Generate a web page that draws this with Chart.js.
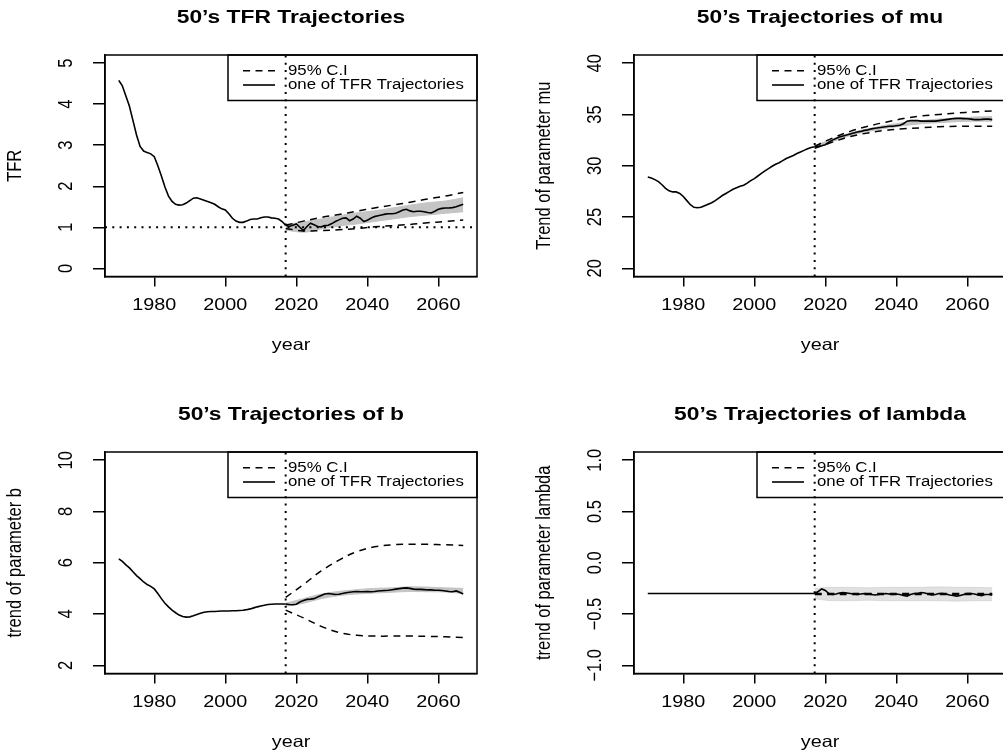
<!DOCTYPE html>
<html lang="en">
<head>
  <meta charset="UTF-8">
  <title>50's Trajectories</title>
  <script src="https://cdn.jsdelivr.net/npm/chart.js"></script>
  <style>
    html, body { margin: 0; padding: 0; background: #fff; overflow: hidden; width: 1003px; height: 756px; }
    canvas { position: absolute; }
  </style>
</head>
<body>
  <canvas id="tfr" width="529" height="397" style="left:0px;top:0px"></canvas>
  <canvas id="mu" width="529" height="397" style="left:529px;top:0px"></canvas>
  <canvas id="b" width="529" height="397" style="left:0px;top:397px"></canvas>
  <canvas id="lambda" width="529" height="397" style="left:529px;top:397px"></canvas>
<script>
// years
const histYears = [1970,1971,1972,1973,1974,1975,1976,1977,1978,1979,1980,1981,1982,1983,1984,1985,1986,1987,1988,1989,
  1990,1991,1992,1993,1994,1995,1996,1997,1998,1999,2000,2001,2002,2003,2004,2005,2006,2007,2008,2009,
  2010,2011,2012,2013,2014,2015,2016,2017];
const projYears = [2017,2018,2019,2020,2021,2022,2023,2024,2025,2026,2027,2028,2029,2030,2031,2032,2033,2034,2035,2036,
  2037,2038,2039,2040,2041,2042,2043,2044,2045,2046,2047,2048,2049,2050,2051,2052,2053,2054,2055,2056,
  2057,2058,2059,2060,2061,2062,2063,2064,2065,2066,2067];
const ciYears = [2017,2022,2027,2032,2037,2042,2047,2052,2057,2062,2067];
const xTicks = [1980,2000,2020,2040,2060];
const jumpYear = 2017;
const legendLabels = ['95% C.I', 'one of TFR Trajectories'];

// TFR
const tfrHist = [4.58,4.45,4.2,3.95,3.6,3.25,2.97,2.86,2.82,2.79,2.72,2.5,2.25,1.98,1.76,1.63,1.56,1.54,1.55,1.59,
  1.65,1.71,1.72,1.69,1.66,1.63,1.6,1.56,1.5,1.45,1.42,1.33,1.22,1.15,1.12,1.12,1.15,1.19,1.2,1.2,
  1.23,1.25,1.25,1.23,1.22,1.2,1.14,1.05];
const tfrTraj = [1.05,1.02,1.05,1.08,1.0,0.92,1.02,1.1,1.06,1.02,1.01,1.04,1.05,1.09,1.14,1.18,1.22,1.23,1.16,1.2,
  1.27,1.22,1.14,1.17,1.22,1.26,1.28,1.3,1.32,1.33,1.33,1.34,1.38,1.42,1.44,1.4,1.38,1.39,1.39,1.38,
  1.36,1.35,1.39,1.44,1.46,1.47,1.47,1.48,1.5,1.53,1.56];
const tfrUpper = [1.05,1.15,1.24,1.31,1.39,1.47,1.54,1.61,1.69,1.76,1.85];
const tfrLower = [0.97,0.91,0.92,0.94,0.97,1.01,1.04,1.07,1.11,1.14,1.18];
const tfrBandHi = [1.07,1.13,1.2,1.28,1.35,1.4,1.47,1.54,1.6,1.64,1.72];
const tfrBandLo = [0.93,0.88,0.96,1.03,1.08,1.14,1.2,1.26,1.3,1.34,1.38];
const tfrRefLevel = 1;
const tfrYTicks = [0,1,2,3,4,5];
const tfrYLabels = ['0','1','2','3','4','5'];

// mu
const muHist = [28.9,28.8,28.65,28.45,28.15,27.8,27.55,27.45,27.45,27.3,27.0,26.6,26.2,25.95,25.9,25.95,26.1,26.25,26.4,26.6,
  26.85,27.1,27.3,27.5,27.7,27.85,28.0,28.1,28.3,28.55,28.75,29.0,29.25,29.5,29.72,29.95,30.15,30.3,30.5,30.7,
  30.85,31.0,31.2,31.35,31.5,31.65,31.78,31.85];
const muTraj = [31.85,31.9,31.95,32.05,32.3,32.5,32.65,32.8,32.9,33.0,33.1,33.2,33.3,33.35,33.45,33.5,33.6,33.65,33.7,33.75,
  33.8,33.85,33.85,33.9,33.95,34.1,34.35,34.4,34.4,34.4,34.35,34.35,34.35,34.35,34.35,34.4,34.45,34.5,34.55,34.6,
  34.62,34.62,34.6,34.58,34.55,34.5,34.5,34.52,34.55,34.55,34.5];
const muUpper = [31.9,32.7,33.35,33.85,34.25,34.6,34.85,35.0,35.15,35.25,35.35];
const muLower = [31.7,32.3,32.85,33.2,33.45,33.6,33.7,33.8,33.85,33.85,33.85];
const muBandHi = [31.95,32.6,33.2,33.6,33.95,34.2,34.4,34.55,34.65,34.75,34.8];
const muBandLo = [31.75,32.35,32.95,33.35,33.65,33.9,34.1,34.2,34.3,34.35,34.35];
const muYTicks = [20,25,30,35,40];
const muYLabels = ['20','25','30','35','40'];

// b
const bHist = [6.15,6.05,5.92,5.8,5.65,5.5,5.38,5.25,5.15,5.08,4.98,4.8,4.6,4.42,4.28,4.15,4.05,3.96,3.9,3.88,
  3.89,3.93,3.98,4.03,4.07,4.09,4.1,4.1,4.11,4.12,4.12,4.12,4.13,4.13,4.14,4.15,4.17,4.2,4.24,4.28,
  4.31,4.34,4.37,4.38,4.39,4.39,4.39,4.39];
const bTraj = [4.39,4.37,4.36,4.38,4.47,4.53,4.57,4.58,4.6,4.66,4.72,4.78,4.8,4.78,4.76,4.77,4.8,4.83,4.85,4.87,
  4.88,4.87,4.87,4.88,4.87,4.88,4.9,4.91,4.92,4.93,4.95,4.97,4.99,5.01,5.02,5.0,4.97,4.96,4.96,4.95,
  4.94,4.94,4.93,4.93,4.92,4.9,4.88,4.87,4.9,4.85,4.78];
const bUpper = [4.65,5.15,5.68,6.1,6.43,6.62,6.7,6.72,6.72,6.7,6.67];
const bLower = [4.15,3.85,3.52,3.28,3.17,3.14,3.14,3.14,3.13,3.11,3.08];
const bBandHi = [4.42,4.6,4.78,4.88,4.95,5.0,5.02,5.06,5.05,5.02,5.0];
const bBandLo = [4.3,4.42,4.6,4.72,4.78,4.82,4.85,4.88,4.87,4.86,4.8];
const bYTicks = [2,4,6,8,10];
const bYLabels = ['2','4','6','8','10'];

// lambda
const lambdaHist = [-0.3,-0.3,-0.3,-0.3,-0.3,-0.3,-0.3,-0.3,-0.3,-0.3,-0.3,-0.3,-0.3,-0.3,-0.3,-0.3,-0.3,-0.3,-0.3,-0.3,
  -0.3,-0.3,-0.3,-0.3,-0.3,-0.3,-0.3,-0.3,-0.3,-0.3,-0.3,-0.3,-0.3,-0.3,-0.3,-0.3,-0.3,-0.3,-0.3,-0.3,
  -0.3,-0.3,-0.3,-0.3,-0.3,-0.3,-0.3,-0.3];
const lambdaTraj = [-0.3,-0.28,-0.255,-0.27,-0.3,-0.31,-0.305,-0.295,-0.29,-0.295,-0.3,-0.305,-0.31,-0.305,-0.3,-0.305,-0.31,-0.315,-0.31,-0.305,
  -0.3,-0.305,-0.31,-0.305,-0.31,-0.32,-0.325,-0.31,-0.3,-0.3,-0.29,-0.295,-0.305,-0.315,-0.31,-0.3,-0.3,-0.305,-0.315,-0.32,
  -0.325,-0.32,-0.31,-0.3,-0.3,-0.305,-0.315,-0.32,-0.31,-0.31,-0.315];
const lambdaUpper = [-0.3,-0.3,-0.3,-0.3,-0.3,-0.3,-0.3,-0.3,-0.3,-0.3,-0.3];
const lambdaLower = [-0.31,-0.31,-0.31,-0.31,-0.31,-0.31,-0.31,-0.31,-0.31,-0.31,-0.31];
const lambdaBandHi = [-0.25,-0.24,-0.24,-0.245,-0.24,-0.24,-0.24,-0.235,-0.24,-0.24,-0.245];
const lambdaBandLo = [-0.35,-0.37,-0.37,-0.365,-0.37,-0.37,-0.37,-0.37,-0.375,-0.37,-0.37];
const lambdaYTicks = [-1,-0.5,0,0.5,1];
const lambdaYLabels = ['\u22121.0','\u22120.5','0.0','0.5','1.0'];

const panels = [
  { id: 'tfr', title: '50\u2019s TFR Trajectories', yTitle: 'TFR', yLim: [0, 5], yTicks: tfrYTicks, yLabels: tfrYLabels,
    hist: tfrHist, traj: tfrTraj, upper: tfrUpper, lower: tfrLower, bandHi: tfrBandHi, bandLo: tfrBandLo, refLevel: tfrRefLevel, band: '#c4c4c4' },
  { id: 'mu', title: '50\u2019s Trajectories of mu', yTitle: 'Trend of parameter mu', yLim: [20, 40], yTicks: muYTicks, yLabels: muYLabels,
    hist: muHist, traj: muTraj, upper: muUpper, lower: muLower, bandHi: muBandHi, bandLo: muBandLo, band: '#c4c4c4' },
  { id: 'b', title: '50\u2019s Trajectories of b', yTitle: 'trend of parameter b', yLim: [2, 10], yTicks: bYTicks, yLabels: bYLabels,
    hist: bHist, traj: bTraj, upper: bUpper, lower: bLower, bandHi: bBandHi, bandLo: bBandLo, band: '#c4c4c4' },
  { id: 'lambda', title: '50\u2019s Trajectories of lambda', yTitle: 'trend of parameter lambda', yLim: [-1, 1], yTicks: lambdaYTicks, yLabels: lambdaYLabels,
    hist: lambdaHist, traj: lambdaTraj, upper: lambdaUpper, lower: lambdaLower, bandHi: lambdaBandHi, bandLo: lambdaBandLo, band: 'rgba(200,200,200,0.55)' }
];

const SX = 1.2;   // the picture is a bit wider than tall
const FONT = '"Liberation Sans", Arial, sans-serif';
const BOX = { left: 105, top: 55, right: 477, bottom: 276.5 };
const W = 529, H = 397;

function pts(xs, ys) { return xs.map((x, i) => ({ x: x, y: ys[i] })); }

function txt(ctx, s, x, y, font, rot, align) {
  ctx.save();
  ctx.translate(x, y);
  ctx.scale(SX, 1);
  if (rot) ctx.rotate(rot);
  ctx.font = font;
  ctx.fillStyle = '#000';
  ctx.textAlign = align || 'center';
  ctx.textBaseline = 'middle';
  ctx.fillText(s, 0, 0);
  ctx.restore();
}

function rPanel(p) {
  return {
    id: 'rpanel',
    afterDraw(chart) {
      const ctx = chart.ctx, a = chart.chartArea, x = chart.scales.x, y = chart.scales.y;
      ctx.save();
      ctx.strokeStyle = '#000';
      ctx.lineWidth = 1.5;
      ctx.strokeRect(a.left, a.top, a.right - a.left, a.bottom - a.top);

      const axFont = '16.5px ' + FONT;
      xTicks.forEach(v => txt(ctx, String(v), x.getPixelForValue(v), a.bottom + 28.5, axFont, 0));
      p.yTicks.forEach((v, i) => txt(ctx, p.yLabels[i], a.left - 38, y.getPixelForValue(v), axFont, -Math.PI / 2));
      txt(ctx, 'year', (a.left + a.right) / 2, a.bottom + 68.5, axFont, 0);
      txt(ctx, p.yTitle, a.left - 89, (a.top + a.bottom) / 2, axFont, -Math.PI / 2);
      txt(ctx, p.title, (a.left + a.right) / 2, a.top - 37, 'bold 19px ' + FONT, 0);

      // legend, top right, no background
      const lw = 249, lh = 45.5, lx = a.right - lw, ly = a.top;
      ctx.lineWidth = 1.5;
      ctx.strokeRect(lx, ly, lw, lh);
      const rows = [ly + 15.7, ly + 30];
      ctx.lineWidth = 1.6;
      ctx.setLineDash([7, 5.5]);
      ctx.beginPath(); ctx.moveTo(lx + 15, rows[0]); ctx.lineTo(lx + 47, rows[0]); ctx.stroke();
      ctx.setLineDash([]);
      ctx.beginPath(); ctx.moveTo(lx + 15, rows[1]); ctx.lineTo(lx + 47, rows[1]); ctx.stroke();
      legendLabels.forEach((s, i) => txt(ctx, s, lx + 60, rows[i], '14px ' + FONT, 0, 'left'));
      ctx.restore();
    }
  };
}

panels.forEach(p => {
  const xMin = histYears[0] - 0.04 * (projYears[projYears.length - 1] - histYears[0]);
  const xMax = projYears[projYears.length - 1] + 0.04 * (projYears[projYears.length - 1] - histYears[0]);
  const yMin = p.yLim[0] - 0.04 * (p.yLim[1] - p.yLim[0]);
  const yMax = p.yLim[1] + 0.04 * (p.yLim[1] - p.yLim[0]);

  const datasets = [
    { data: pts(histYears, p.hist), borderColor: '#000', borderWidth: 1.6, order: 0 },
    { data: pts(projYears, p.traj), borderColor: '#000', borderWidth: 1.6, order: 0 },
    { data: pts(ciYears, p.upper), borderColor: '#000', borderWidth: 1.5, borderDash: [7, 5.5], tension: 0.4, order: 1 },
    { data: pts(ciYears, p.lower), borderColor: '#000', borderWidth: 1.5, borderDash: [7, 5.5], tension: 0.4, order: 1 },
    { data: [{ x: jumpYear, y: yMin }, { x: jumpYear, y: yMax }], borderColor: '#000', borderWidth: 2, borderDash: [2, 5.3], order: 2 },
    { data: pts(ciYears, p.bandHi), borderColor: p.band, backgroundColor: p.band, borderWidth: 1, fill: '+1', cubicInterpolationMode: 'monotone', order: 3 },
    { data: pts(ciYears, p.bandLo), borderColor: p.band, borderWidth: 1, cubicInterpolationMode: 'monotone', order: 3 }
  ];
  if (p.refLevel !== undefined) {
    datasets.push({ data: [{ x: xMin, y: p.refLevel }, { x: xMax, y: p.refLevel }], borderColor: '#000', borderWidth: 2, borderDash: [2, 5.3], order: 2 });
  }

  const axis = (min, max, ticks, len, horiz) => ({
    type: 'linear', min: min, max: max,
    afterBuildTicks: s => { s.ticks = ticks.map(v => ({ value: v })); },
    afterFit: s => { if (horiz) s.height = len; else s.width = len; },
    ticks: { display: false },
    grid: { display: true, drawOnChartArea: false, drawTicks: true, tickLength: len, color: '#000', lineWidth: 1.5 },
    border: { display: true, color: '#000', width: 1.5 }
  });

  new Chart(document.getElementById(p.id), {
    type: 'line',
    data: { datasets: datasets },
    options: {
      responsive: false,
      animation: false,
      elements: { point: { radius: 0 }, line: { fill: false } },
      layout: { padding: { left: BOX.left - 12, top: BOX.top, right: W - BOX.right, bottom: H - BOX.bottom - 10 } },
      plugins: { legend: { display: false }, title: { display: false }, tooltip: { enabled: false } },
      scales: {
        x: axis(xMin, xMax, xTicks, 10, true),
        y: axis(yMin, yMax, p.yTicks, 12, false)
      }
    },
    plugins: [rPanel(p)]
  });
});
</script>
</body>
</html>
